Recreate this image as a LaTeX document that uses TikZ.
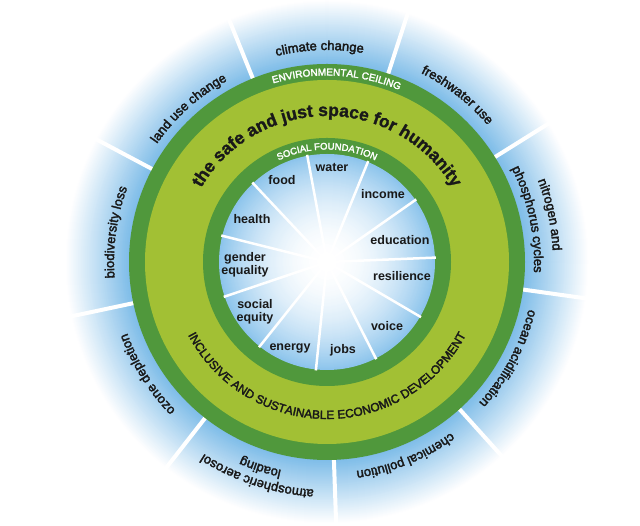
\documentclass[tikz,border=0pt]{standalone}
\usepackage{fontspec}
\setmainfont{Liberation Sans}
\newfontfamily\medfont[FakeBold=2.5]{Liberation Sans}
\newfontfamily\heavyfont[FakeBold=1.5]{Liberation Sans Bold}
\usetikzlibrary{decorations.text}
\definecolor{dkgreen}{RGB}{80,152,60}
\definecolor{ltgreen}{RGB}{162,192,52}
\definecolor{skyblue}{RGB}{125,188,232}
\definecolor{inblue}{RGB}{140,196,236}
\definecolor{labcol}{RGB}{25,25,25}
\newcommand\olabfont{\medfont\fontsize{13}{15}\selectfont}
\newcommand\bigfont{\heavyfont\fontsize{17.5}{20}\selectfont}
\newcommand\capfont{\medfont\fontsize{10}{12}\selectfont}
\newcommand\socfont{\medfont\fontsize{9.5}{11}\selectfont}
\newcommand\incfont{\medfont\fontsize{12}{14}\selectfont}
% clockwise arc text (tops outward): #1 centre angle, #2 radius, #3 half span, #4 font, #5 colour, #6 text
\newcommand\cwtext[6]{%
  \path[decorate, decoration={text along path, text align=center, text color=#5, text={|#4|#6}}]
    (#1+#3:#2pt) arc[start angle=#1+#3, end angle=#1-#3, radius=#2pt];}
% counter-clockwise arc text (tops inward)
\newcommand\ccwtext[6]{%
  \path[decorate, decoration={text along path, text align=center, text color=#5, text={|#4|#6}}]
    (#1-#3:#2pt) arc[start angle=#1-#3, end angle=#1+#3, radius=#2pt];}
\begin{document}
\begin{tikzpicture}[x=1pt,y=1pt,
  inlab/.style={font=\fontsize{12.5}{12.5}\selectfont\bfseries, text=labcol, align=center, inner sep=0pt, text height=1.5ex, text depth=.25ex},
  spoke/.style={white, line width=2.5pt},
  sep/.style={white, line width=4pt}]
\useasboundingbox (0,0) rectangle (640,526);
\fill[white] (0,0) rectangle (640,526);
\begin{scope}[shift={(327,264)}]
  \coordinate (C) at (0,0);
  % outer blue gradient
  \foreach \r in {262,261,...,198}{
    \pgfmathtruncatemacro\p{100*(1-(\r-198)/64)}
    \fill[skyblue!\p!white] (C) circle (\r pt);
  }
  % outer separators
  \foreach \a in {112,72,...,-208}
    \draw[sep] (\a:196pt) -- (\a:262pt);
  % rings
  \fill[dkgreen] (C) circle (198pt);
  \fill[ltgreen] (C) circle (182pt);
  \fill[dkgreen] (C) circle (124pt);
  % inner gradient
  \foreach \r in {108,107,...,1}{
    \pgfmathtruncatemacro\p{100*(\r/108)^2}
    \fill[inblue!\p!white] (C) circle (\r pt);
  }
  % spokes
  \foreach \i in {0,...,10}
    \draw[spoke] (C) -- ({100.5-32.7273*\i}:109pt);

  % outer labels
  \cwtext{92}{212}{35}{\olabfont}{labcol}{climate change}
  \cwtext{52}{211}{35}{\olabfont}{labcol}{freshwater use}
  \cwtext{12}{226}{35}{\olabfont}{labcol}{nitrogen and}
  \cwtext{12}{207}{35}{\olabfont}{labcol}{phosphorus cycles}
  \cwtext{-28}{207}{35}{\olabfont}{labcol}{ocean acidification}
  \cwtext{-68}{211}{35}{\olabfont}{labcol}{chemical pollution}
  \cwtext{-108}{228}{35}{\olabfont}{labcol}{atmospheric aerosol}
  \cwtext{-108}{213}{35}{\olabfont}{labcol}{loading}
  \cwtext{-148}{212}{35}{\olabfont}{labcol}{ozone depletion}
  \cwtext{172}{213}{35}{\olabfont}{labcol}{biodiversity loss}
  \cwtext{132}{207}{35}{\olabfont}{labcol}{land use change}

  % ring texts
  \cwtext{87}{186.5}{40}{\capfont}{white}{ENVIRONMENTAL CEILING}
  \cwtext{90}{112.5}{50}{\socfont}{white}{SOCIAL FOUNDATION}
  \cwtext{90}{146}{70}{\bigfont}{labcol}{the safe and just space for humanity}
  \ccwtext{270}{157}{70}{\incfont}{labcol}{INCLUSIVE AND SUSTAINABLE ECONOMIC DEVELOPMENT}

  % inner labels
  \node[inlab] (water) at (5,94) {water};
  \node[inlab] (food) at (-45,81) {food};
  \node[inlab] (income) at (56,67) {income};
  \node[inlab] (health) at (-75,42) {health};
  \node[inlab] (education) at (73,21) {education};
  \node[inlab, text height=, text depth=] (gender) at (-82,-3) {gender\\equality};
  \node[inlab] (resilience) at (75,-15) {resilience};
  \node[inlab, text height=, text depth=] (social) at (-72,-50) {social\\equity};
  \node[inlab] (voice) at (60,-65) {voice};
  \node[inlab] (energy) at (-37,-85) {energy};
  \node[inlab] (jobs) at (16,-88) {jobs};
\end{scope}
\end{tikzpicture}
\end{document}
